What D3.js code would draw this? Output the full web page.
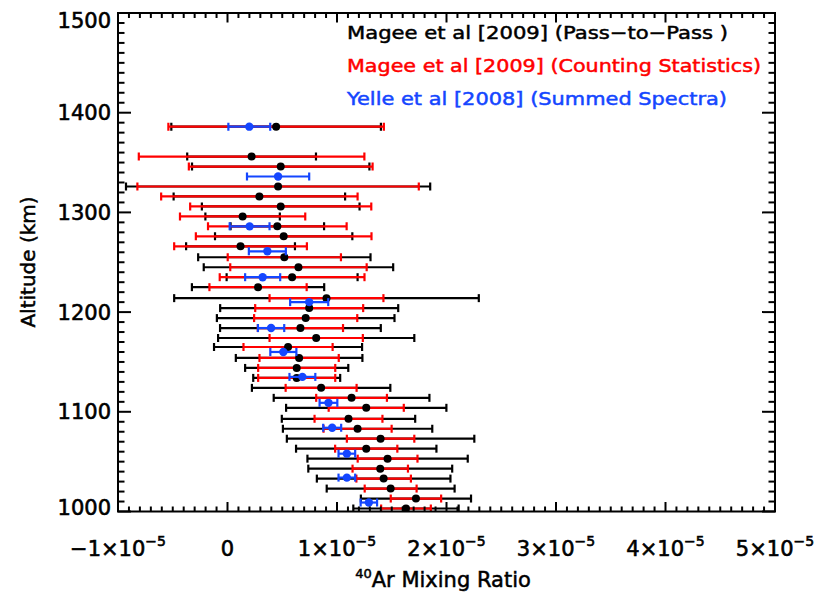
<!DOCTYPE html>
<html>
<head>
<meta charset="utf-8">
<script src="https://cdn.jsdelivr.net/npm/d3@7"></script>
<style>
html,body{margin:0;padding:0;background:#fff;}
svg{display:block;font-family:"DejaVu Sans",sans-serif;}
</style>
</head>
<body>
<svg id="chart" width="814" height="599"></svg>
<script>
// ---- data (mixing ratio in units of 1e-5) ----
const magAlt = [1386,1356,1346,1326,1316,1306,1296,1286,1276,1266,1255,1245,1235,1225,1214,1204,1194,1184,1174,1165,1154,1144,1134,1124,1114,1104,1093,1083,1073,1063,1053,1043,1033,1023,1013,1003];
const magVal = [0.444,0.220,0.486,0.462,0.291,0.486,0.138,0.455,0.513,0.119,0.519,0.648,0.590,0.279,0.904,0.746,0.714,0.666,0.810,0.553,0.654,0.632,0.632,0.855,1.133,1.267,1.105,1.188,1.398,1.267,1.462,1.395,1.426,1.490,1.721,1.630];
const passErr = [0.957,0.588,0.810,1.389,0.783,0.720,0.340,0.427,0.627,0.497,0.787,0.865,0.598,0.604,1.391,0.813,0.811,0.734,0.896,0.676,0.578,0.471,0.397,0.632,0.711,0.732,0.609,0.682,0.856,0.641,0.732,0.657,0.610,0.584,0.503,0.481];
const countErr = [0.984,1.030,0.839,1.285,0.897,0.827,0.572,0.633,0.802,0.606,0.517,0.623,0.661,0.444,0.520,0.493,0.471,0.389,0.426,0.407,0.362,0.352,0.352,0.324,0.323,0.343,0.310,0.311,0.308,0.284,0.273,0.253,0.249,0.237,0.230,0.227];
const yelleAlt = [1386,1336,1286,1261,1235,1210,1184,1160,1135,1109,1084,1058,1034,1009];
const yelleVal = [0.199,0.462,0.202,0.364,0.321,0.746,0.398,0.510,0.684,0.922,0.956,1.090,1.090,1.291];
const yelleErr = [0.191,0.284,0.182,0.169,0.160,0.174,0.120,0.119,0.118,0.081,0.082,0.076,0.076,0.075];
const xTickVals = [-1,0,1,2,3,4,5];
const xTickMant = ["\u22121\u00d710","0","1\u00d710","2\u00d710","3\u00d710","4\u00d710","5\u00d710"];
const yTickVals = [1000,1100,1200,1300,1400,1500];
const legendLabels = ["Magee et al [2009] (Pass\u2212to\u2212Pass )","Magee et al [2009] (Counting Statistics)","Yelle et al [2008] (Summed Spectra)"];
const SCALE = 1e-5;

// ---- layout ----
const L = 118, R = 775, T = 13, B = 511.5;
const RED = "#ff0000", BLUE = "#1446ff", BLK = "#000";
const svg = d3.select("#chart");
svg.append("rect").attr("width",814).attr("height",599).attr("fill","#fff");

const x = d3.scaleLinear().domain([-1*SCALE, 5*SCALE]).range([L, R]);
const y = d3.scaleLinear().domain([1000, 1500]).range([B, T]);

svg.append("clipPath").attr("id","clip").append("rect")
  .attr("x",L).attr("y",T).attr("width",R-L).attr("height",B-T);
const plot = svg.append("g").attr("clip-path","url(#clip)");

const mag = magAlt.map((a,i)=>({alt:a, v:magVal[i]*SCALE, ep:passErr[i]*SCALE, ec:countErr[i]*SCALE}));
const yel = yelleAlt.map((a,i)=>({alt:a, v:yelleVal[i]*SCALE, e:yelleErr[i]*SCALE}));

function errBars(g, data, errKey, color, capH, lw){
  const grp = g.append("g").attr("stroke",color).attr("stroke-width",lw).attr("fill","none");
  data.forEach(d=>{
    const e = d[errKey];
    const x0 = x(d.v - e), x1 = x(d.v + e), yy = y(d.alt);
    grp.append("line").attr("x1",x0).attr("x2",x1).attr("y1",yy).attr("y2",yy);
    grp.append("line").attr("x1",x0).attr("x2",x0).attr("y1",yy-capH).attr("y2",yy+capH);
    grp.append("line").attr("x1",x1).attr("x2",x1).attr("y1",yy-capH).attr("y2",yy+capH);
  });
}
errBars(plot, mag, "ep", BLK, 4, 2.2);
errBars(plot, mag, "ec", RED, 4, 2.2);
plot.append("g").selectAll("circle").data(mag).join("circle")
  .attr("cx",d=>x(d.v)).attr("cy",d=>y(d.alt)).attr("r",4).attr("fill",BLK);
errBars(plot, yel, "e", BLUE, 4, 2.2);
plot.append("g").selectAll("circle").data(yel).join("circle")
  .attr("cx",d=>x(d.v)).attr("cy",d=>y(d.alt)).attr("r",4.2).attr("fill",BLUE);

// ---- frame & ticks (IDL style, inward on all sides) ----
const axg = svg.append("g").attr("stroke",BLK).attr("stroke-width",2).attr("fill","none");
axg.append("rect").attr("x",L).attr("y",T).attr("width",R-L).attr("height",B-T);
const yMinor = d3.range(1000, 1501, 10);
yMinor.forEach(v=>{
  const major = v % 100 === 0;
  const len = major ? 13 : 6.5;
  axg.append("line").attr("x1",L).attr("x2",L+len).attr("y1",y(v)).attr("y2",y(v));
  axg.append("line").attr("x1",R).attr("x2",R-len).attr("y1",y(v)).attr("y2",y(v));
});
const xMinor = d3.range(-10, 51, 1).map(k=>k/10*SCALE);
xMinor.forEach((v,i)=>{
  const major = (i % 10) === 0;
  const len = major ? 9.5 : 5;
  axg.append("line").attr("x1",x(v)).attr("x2",x(v)).attr("y1",B).attr("y2",B-len);
  axg.append("line").attr("x1",x(v)).attr("x2",x(v)).attr("y1",T).attr("y2",T+len);
});

// y tick labels (end labels kept inside the frame height, as in the original)
svg.append("g").selectAll("text").data(yTickVals).join("text")
  .attr("x",111)
  .attr("y",d=>Math.min(Math.max(y(d), T + 7), B - 4))
  .attr("dy","0.36em")
  .attr("text-anchor","end").attr("font-size",21).attr("fill",BLK)
  .attr("stroke",BLK).attr("stroke-width",0.6)
  .text(d=>d);

// x tick labels with superscript exponent
const xl = svg.append("g");
xTickVals.forEach((v,i)=>{
  const t = xl.append("text").attr("y",556).attr("font-size",21).attr("fill",BLK)
    .attr("stroke",BLK).attr("stroke-width",0.6)
    .attr("text-anchor","middle").attr("x",x(v*SCALE));
  t.append("tspan").text(xTickMant[i]);
  if (v !== 0) {
    t.append("tspan").attr("font-size",14).attr("dy",-10).text("\u22125");
  }
});

// axis titles
svg.append("text").attr("transform","translate(35,262) rotate(-90)")
  .attr("text-anchor","middle").attr("font-size",20).attr("fill",BLK)
  .attr("stroke",BLK).attr("stroke-width",0.5)
  .text("Altitude (km)");
const xt = svg.append("text").attr("x",443).attr("y",587).attr("text-anchor","middle")
  .attr("font-size",21).attr("fill",BLK).attr("stroke",BLK).attr("stroke-width",0.5);
xt.append("tspan").attr("font-size",13).attr("dy",-9).text("40");
xt.append("tspan").attr("dy",9).text("Ar Mixing Ratio");

// legend text
const legColors = [BLK, RED, BLUE];
const legY = [39, 72, 105];
const legW = [381, 414, 380];
legendLabels.forEach((s,i)=>{
  svg.append("text").attr("x",347).attr("y",legY[i]).attr("font-size",18.5)
    .attr("fill",legColors[i]).attr("stroke",legColors[i]).attr("stroke-width",0.5)
    .attr("textLength",legW[i]).attr("lengthAdjust","spacingAndGlyphs")
    .text(s);
});
</script>
</body>
</html>
